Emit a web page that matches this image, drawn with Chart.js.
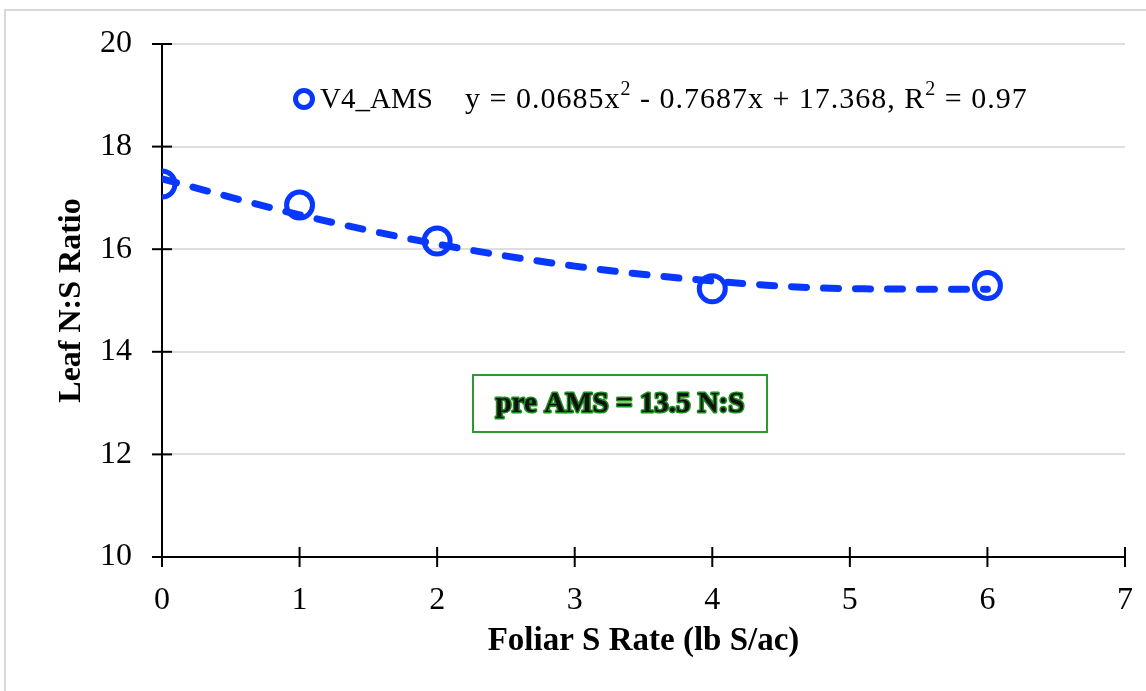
<!DOCTYPE html>
<html>
<head>
<meta charset="utf-8">
<script src="https://cdn.jsdelivr.net/npm/chart.js@4.4.1/dist/chart.umd.min.js"></script>
<style>
  html, body { margin: 0; padding: 0; background: #fff; }
  #wrap { width: 1146px; height: 691px; }
</style>
</head>
<body>
<div id="wrap"><canvas id="chart" width="1146" height="691"></canvas></div>
<script>
// data
var rateX = [0, 1, 2, 4, 6];
var ratioY = [17.27, 16.86, 16.16, 15.23, 15.29];
// poly trendline as drawn (read at each whole rate)
var trendX = [0, 1, 2, 3, 4, 5, 6];
var trendY = [17.37, 16.67, 16.10, 15.67, 15.38, 15.23, 15.22];

var seriesName = "V4_AMS";
var eqParts = [
  ["y = 0.0685x", false], ["2", true], [" - 0.7687x + 17.368, R", false], ["2", true], [" = 0.97", false]
];
var noteText = "pre AMS = 13.5 N:S";
var xTitle = "Foliar S Rate (lb S/ac)";
var yTitle = "Leaf N:S Ratio";

var blue = "#0838ff";
var serif = "'Liberation Serif', 'Times New Roman', serif";

function pts(xs, ys) {
  var out = [];
  for (var i = 0; i < xs.length; i++) out.push({ x: xs[i], y: ys[i] });
  return out;
}

function noPad(s) {
  s.paddingLeft = 0; s.paddingRight = 0; s.paddingTop = 0; s.paddingBottom = 0;
}

var extras = {
  id: "extras",
  afterDraw: function (chart) {
    var ctx = chart.ctx;
    var a = chart.chartArea;
    var xs = chart.scales.x, ys = chart.scales.y;
    ctx.save();

    // outer frame
    ctx.strokeStyle = "#d9d9d9";
    ctx.lineWidth = 2;
    ctx.strokeRect(5, 10, 1170, 720);

    // cross tick marks
    ctx.strokeStyle = "#000";
    ctx.lineWidth = 2;
    ys.ticks.forEach(function (t) {
      var py = ys.getPixelForValue(t.value);
      ctx.beginPath(); ctx.moveTo(a.left - 10, py); ctx.lineTo(a.left + 10, py); ctx.stroke();
    });
    xs.ticks.forEach(function (t) {
      var px = xs.getPixelForValue(t.value);
      ctx.beginPath(); ctx.moveTo(px, a.bottom - 10); ctx.lineTo(px, a.bottom + 10); ctx.stroke();
    });

    // legend + trendline label
    var ly = 99;
    ctx.strokeStyle = blue;
    ctx.lineWidth = 5;
    ctx.beginPath(); ctx.arc(304, ly, 8.5, 0, Math.PI * 2); ctx.stroke();
    ctx.fillStyle = "#000";
    ctx.textBaseline = "middle";
    ctx.textAlign = "left";
    ctx.font = "29px " + serif;
    ctx.fillText(seriesName, 320, ly + 1);
    ctx.letterSpacing = "1px";
    var x = 465;
    eqParts.forEach(function (p) {
      if (p[1]) {
        ctx.font = "20px " + serif;
        ctx.fillText(p[0], x, ly - 9);
      } else {
        ctx.font = "30px " + serif;
        ctx.fillText(p[0], x, ly + 1);
      }
      x += ctx.measureText(p[0]).width;
    });
    ctx.letterSpacing = "0px";

    // note box
    ctx.strokeStyle = "#2e9a2e";
    ctx.lineWidth = 2;
    ctx.strokeRect(473, 375, 294, 57);
    ctx.font = "bold 29px " + serif;
    ctx.textAlign = "center";
    ctx.lineJoin = "round";
    ctx.strokeStyle = "#1f8f1f";
    ctx.lineWidth = 3;
    ctx.strokeText(noteText, 620, 405);
    ctx.fillStyle = "#111";
    ctx.fillText(noteText, 620, 405);

    ctx.restore();
  }
};

new Chart(document.getElementById("chart"), {
  type: "scatter",
  data: {
    datasets: [
      {
        label: "trend",
        data: pts(trendX, trendY),
        showLine: true,
        borderColor: blue,
        borderWidth: 7,
        borderDash: [15, 17],
        borderCapStyle: "round",
        cubicInterpolationMode: "monotone",
        pointRadius: 0,
        fill: false,
      },
      {
        label: seriesName,
        data: pts(rateX, ratioY),
        showLine: false,
        pointStyle: "circle",
        pointRadius: 13,
        pointBorderWidth: 5,
        pointBorderColor: blue,
        pointBackgroundColor: "rgba(0,0,0,0)",
      },
    ],
  },
  options: {
    responsive: false,
    animation: false,
    layout: { padding: { left: 0, top: 44, right: 21, bottom: 0 } },
    plugins: { legend: { display: false }, tooltip: { enabled: false } },
    scales: {
      x: {
        type: "linear",
        min: 0,
        max: 7,
        afterFit: function (s) { s.height = 134; noPad(s); },
        grid: { display: false, drawTicks: false },
        border: { display: true, color: "#000", width: 2 },
        ticks: { stepSize: 1, padding: 24, color: "#000", font: { family: serif, size: 32 } },
        title: {
          display: true, text: xTitle, color: "#000",
          font: { family: serif, size: 33, weight: "bold" },
          padding: { top: 0, bottom: 30 },
        },
      },
      y: {
        min: 10,
        max: 20,
        afterFit: function (s) { s.width = 162; noPad(s); },
        grid: { color: "#dedede", lineWidth: 2, drawTicks: false },
        border: { display: true, color: "#000", width: 2 },
        ticks: { stepSize: 2, padding: 30, color: "#000", font: { family: serif, size: 32 } },
        title: {
          display: true, text: yTitle, color: "#000",
          font: { family: serif, size: 32, weight: "bold" },
          padding: { top: 53, bottom: 0 },
        },
      },
    },
  },
  plugins: [extras],
});
</script>
</body>
</html>
